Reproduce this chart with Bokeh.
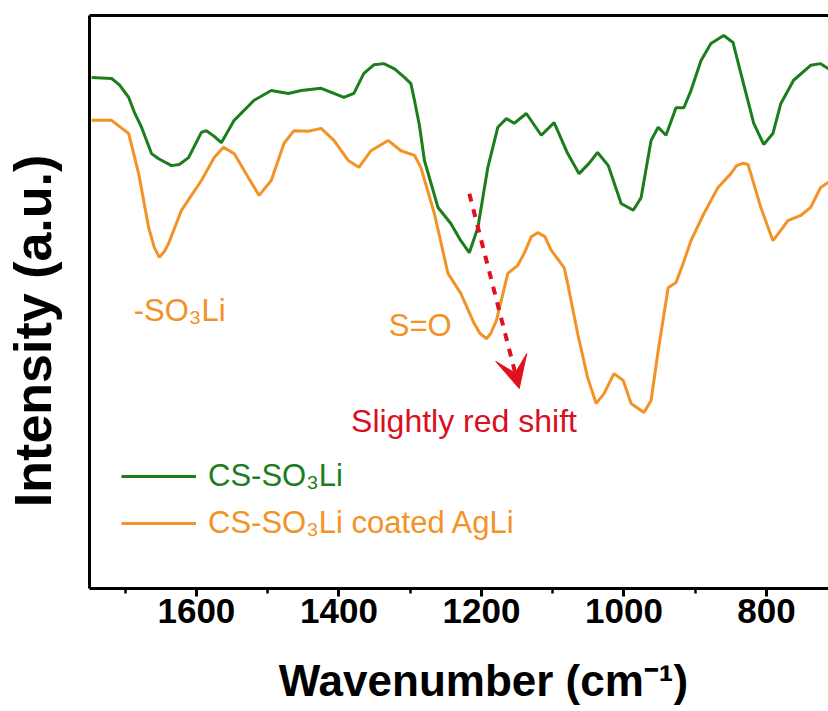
from bokeh.plotting import figure
from bokeh.models import (Range1d, FixedTicker, LinearAxis, Label, Arrow, VeeHead,
                          Legend, LegendItem)
from bokeh.embed import file_html
from bokeh.resources import INLINE

# ---- data (wavenumber in cm-1, intensity in a.u.) ----
green_wn = [1747, 1719, 1708, 1695, 1687, 1677, 1663, 1653, 1635, 1624, 1611, 1593, 1586, 1575,
            1565, 1547, 1519, 1495, 1471, 1453, 1425, 1407, 1393, 1379, 1365, 1351, 1337, 1322,
            1308, 1299, 1294, 1287, 1280, 1261, 1243, 1229, 1217, 1205, 1191, 1177, 1165, 1154,
            1137, 1116, 1098, 1079, 1063, 1049, 1037, 1022, 1004, 987, 976, 962, 952, 941, 927,
            916, 906, 892, 878, 860, 847, 836, 818, 804, 791, 780, 762, 738, 724, 713]
green_int = [89.2, 89.0, 87.9, 85.7, 83.1, 80.5, 75.9, 75.0, 73.8, 74.0, 75.2, 79.6, 79.9, 78.9,
             77.8, 81.7, 85.2, 86.9, 86.4, 86.9, 87.3, 86.4, 85.7, 86.4, 89.9, 91.4, 91.6, 90.7,
             89.2, 88.1, 85.2, 80.8, 74.7, 66.5, 63.7, 60.7, 58.6, 63.0, 73.5, 80.5, 82.0, 81.2,
             82.9, 79.1, 81.3, 75.9, 72.4, 74.2, 76.1, 73.8, 67.2, 66.0, 68.2, 78.2, 80.5, 79.1, 83.9,
             83.9, 86.9, 92.1, 95.1, 96.5, 95.3, 89.9, 81.2, 77.5, 79.4, 84.6, 88.7, 91.3, 91.6, 90.7]

orange_wn = [1747, 1719, 1695, 1681, 1667, 1659, 1652, 1645, 1639, 1621, 1593, 1575, 1562, 1547,
             1527, 1512, 1495, 1477, 1463, 1443, 1425, 1407, 1387, 1372, 1355, 1331, 1313, 1294,
             1285, 1266, 1247, 1229, 1210, 1202, 1193, 1187, 1179, 1163, 1149, 1140, 1130, 1121,
             1111, 1102, 1084, 1079, 1065, 1051, 1039, 1028, 1014, 1001, 990, 972, 962, 952, 938,
             927, 917, 906, 888, 868, 850, 842, 833, 826, 822, 808, 791, 780, 770, 752, 738, 724, 713]
orange_int = [81.7, 81.7, 79.4, 72.4, 63.0, 59.5, 57.8, 58.8, 60.2, 66.0, 71.2, 75.2, 77.0, 75.9,
              71.7, 68.6, 71.2, 77.7, 79.9, 79.8, 80.3, 78.2, 74.7, 73.5, 76.4, 78.2, 76.4, 75.6,
              73.5, 65.4, 55.0, 51.5, 46.2, 44.5, 43.6, 44.5, 46.8, 55.0, 56.4, 58.5, 61.4, 62.1,
              61.4, 59.0, 56.0, 53.2, 44.5, 36.8, 32.3, 34.0, 37.5, 36.3, 32.3, 30.7, 32.8, 41.5, 52.5,
              53.4, 56.7, 60.7, 65.4, 70.0, 72.4, 73.8, 74.2, 74.0, 72.4, 66.5, 60.7, 62.5, 64.2, 65.1,
              66.5, 70.0, 70.9]

series_names = ["CS-SO\u2083Li", "CS-SO\u2083Li coated AgLi"]
major_ticks = [1600, 1400, 1200, 1000, 800]
minor_ticks = [1700, 1500, 1300, 1100, 900]
x_title = "Wavenumber (cm\u207b\u00b9)"
y_title = "Intensity (a.u.)"

GREEN = "#1b7d1b"
ORANGE = "#f39226"
RED = "#e0101e"
FONT = "Liberation Sans"
NBSP4 = "\u00a0" * 4   # shifts the centred titles to where the reference has them

p = figure(width=828, height=711, output_backend="svg", toolbar_location=None,
           x_range=Range1d(1750, 713), y_range=Range1d(0, 100),
           x_axis_type=None, y_axis_type=None,
           min_border_left=88, min_border_right=0, min_border_top=15, min_border_bottom=123)
p.outline_line_color = None
p.background_fill_color = "white"
p.border_fill_color = "white"

# bottom axis
xa = LinearAxis(ticker=FixedTicker(ticks=major_ticks, minor_ticks=minor_ticks))
xa.axis_line_width = 3
xa.axis_line_color = "black"
xa.major_tick_line_width = 3
xa.minor_tick_line_width = 2.5
xa.major_tick_out = 8
xa.major_tick_in = 0
xa.minor_tick_out = 5
xa.minor_tick_in = 0
xa.major_label_text_font = FONT
xa.major_label_text_font_style = "bold"
xa.major_label_text_font_size = "35px"
xa.major_label_text_color = "black"
xa.major_label_standoff = 2
xa.axis_label = NBSP4 + x_title
xa.axis_label_text_font = FONT
xa.axis_label_text_font_size = "44px"
xa.axis_label_text_font_style = "bold"
xa.axis_label_text_color = "black"
xa.axis_label_standoff = 30
p.add_layout(xa, "below")

# left axis (frame line + title)
ya = LinearAxis(ticker=FixedTicker(ticks=[], minor_ticks=[]))
ya.axis_line_width = 3
ya.axis_line_color = "black"
ya.major_label_text_font_size = "0px"
ya.major_label_standoff = 0
ya.major_tick_out = 0
ya.minor_tick_out = 0
ya.major_tick_line_color = None
ya.minor_tick_line_color = None
ya.axis_label = y_title + NBSP4
ya.axis_label_text_font = FONT
ya.axis_label_text_font_size = "52px"
ya.axis_label_text_font_style = "bold"
ya.axis_label_text_color = "black"
ya.axis_label_standoff = 28
p.add_layout(ya, "left")

# top frame line
ta = LinearAxis(ticker=FixedTicker(ticks=[], minor_ticks=[]))
ta.axis_line_width = 3
ta.axis_line_color = "black"
ta.major_label_text_font_size = "0px"
ta.major_tick_line_color = None
ta.minor_tick_line_color = None
p.add_layout(ta, "above")

# curves
r_g = p.line(green_wn, green_int, line_color=GREEN, line_width=3)
r_o = p.line(orange_wn, orange_int, line_color=ORANGE, line_width=3)

# legends (one per series, to color the labels)
for name, r, col, loc in ((series_names[0], r_g, GREEN, (32, 94)),
                          (series_names[1], r_o, ORANGE, (32, 47))):
    lg = Legend(items=[LegendItem(label=name, renderers=[r])], location=loc,
                glyph_width=75, glyph_height=20, label_standoff=12, padding=0, margin=0,
                border_line_color=None, background_fill_alpha=0,
                label_text_font=FONT, label_text_font_size="31px", label_text_color=col)
    p.add_layout(lg, "center")

# annotations
p.add_layout(Label(x=1688, y=48.5, text="-SO\u2083Li", text_font=FONT, text_font_size="31px",
                   text_color=ORANGE, text_align="left", text_baseline="alphabetic"))
p.add_layout(Label(x=1330, y=45.9, text="S=O", text_font=FONT, text_font_size="31px",
                   text_color=ORANGE, text_align="left", text_baseline="alphabetic"))
p.add_layout(Label(x=1383, y=29.3, text="Slightly red shift", text_font=FONT,
                   text_font_size="32px", text_color="#d8101f", text_align="left",
                   text_baseline="alphabetic"))
p.add_layout(Arrow(x_start=1217, y_start=68.9, x_end=1147, y_end=34.9,
                   line_color=RED, line_width=4, line_dash="8 8",
                   end=VeeHead(size=32, fill_color=RED, line_color=RED, line_width=1)))

open("out.html", "w").write(file_html(p, INLINE))
